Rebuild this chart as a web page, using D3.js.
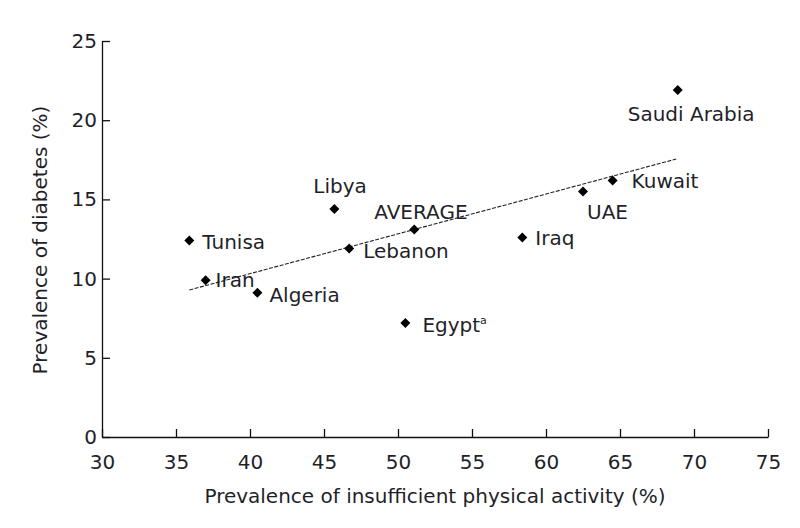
<!DOCTYPE html>
<html><head><meta charset="utf-8">
<script src="https://cdn.jsdelivr.net/npm/d3@7"></script>
<style>body{margin:0;background:#fff}svg{display:block}</style>
</head><body>
<svg id="c" width="800" height="528"></svg>
<script>
// Data
const countries = ["Saudi Arabia","Kuwait","UAE","Iraq","AVERAGE","Egypt","Lebanon","Libya","Algeria","Iran","Tunisa"];
const inactivity = [68.9, 64.5, 62.5, 58.4, 51.1, 50.5, 46.7, 45.7, 40.5, 37.0, 35.9];
const diabetes   = [21.9, 16.2, 15.5, 12.6, 13.1, 7.2, 11.9, 14.4, 9.1, 9.9, 12.4];
const trendX = [35.9, 68.8];
const trendY = [9.28, 17.55];
const xTicks = [30,35,40,45,50,55,60,65,70,75];
const yTicks = [0,5,10,15,20,25];
const xTitle = "Prevalence of insufficient physical activity (%)";
const yTitle = "Prevalence of diabetes (%)";

// Layout (label offsets in px relative to marker)
const labelOffset = {
  "Saudi Arabia":[-50,31], "Kuwait":[19,8], "UAE":[4,28], "Iraq":[13,8],
  "AVERAGE":[-40,-10], "Egypt":[17,9], "Lebanon":[14,9], "Libya":[-21,-16],
  "Algeria":[12,9], "Iran":[10,7], "Tunisa":[13,8]
};

const svg = d3.select("#c");
const font = "'DejaVu Sans', Verdana, sans-serif";
const fs = 20;
const ink = "#1f1f2a";
const x = d3.scaleLinear().domain([30,75]).range([102,768]);
const y = d3.scaleLinear().domain([0,25]).range([437,41]);

const xa = svg.append("g").attr("transform","translate(0,437)")
  .call(d3.axisBottom(x).tickValues(xTicks).tickSizeInner(-8).tickSizeOuter(0).tickPadding(18));
const ya = svg.append("g").attr("transform","translate(102,0)")
  .call(d3.axisLeft(y).tickValues(yTicks).tickSizeInner(-8).tickSizeOuter(0).tickPadding(5));
[xa,ya].forEach(a=>{
  a.selectAll("path,line").attr("stroke","#111").attr("stroke-width",1.3);
  a.selectAll("text").attr("font-family",font).attr("font-size",fs).attr("fill",ink);
});

svg.append("text").attr("x",435).attr("y",503).attr("text-anchor","middle")
  .attr("font-family",font).attr("font-size",fs).attr("fill",ink).text(xTitle);
svg.append("text").attr("transform","translate(47,240) rotate(-90)").attr("text-anchor","middle")
  .attr("font-family",font).attr("font-size",fs).attr("fill",ink).text(yTitle);

// trend line
svg.append("line")
  .attr("x1",x(trendX[0])).attr("y1",y(trendY[0]))
  .attr("x2",x(trendX[1])).attr("y2",y(trendY[1]))
  .attr("stroke","#222").attr("stroke-width",1.1).attr("stroke-dasharray","4,1.5");

const pts = countries.map((c,i)=>({c, vx:inactivity[i], vy:diabetes[i]}));
const sym = d3.symbol().type(d3.symbolSquare).size(50);
svg.append("g").selectAll("path").data(pts).join("path")
  .attr("d",sym)
  .attr("transform",d=>`translate(${x(d.vx)},${y(d.vy)}) rotate(45)`)
  .attr("fill","#000");

const lab = svg.append("g").selectAll("text").data(pts).join("text")
  .attr("x",d=>x(d.vx)+labelOffset[d.c][0])
  .attr("y",d=>y(d.vy)+labelOffset[d.c][1])
  .attr("font-family",font).attr("font-size",fs).attr("fill",ink);
lab.append("tspan").text(d=>d.c);
lab.filter(d=>d.c==="Egypt").append("tspan").attr("dy",-8).attr("font-size",11).text("a");
</script>
</body></html>
